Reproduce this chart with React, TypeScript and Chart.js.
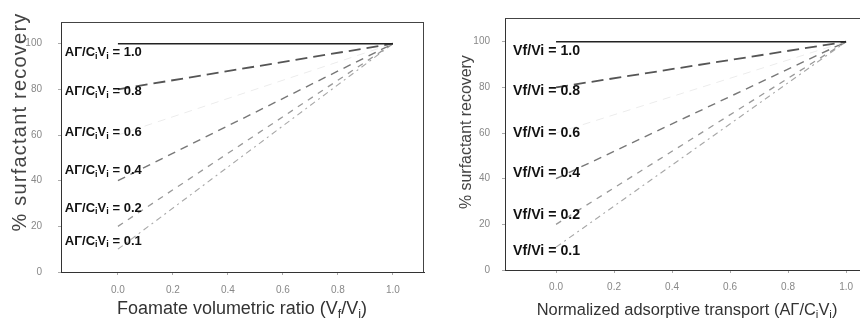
import React, { useEffect, useRef } from "react";
import { Chart, registerables } from "chart.js";

Chart.register(...registerables);

// ---- data ----
const paramValues = [1.0, 0.8, 0.6, 0.4, 0.2, 0.1];
const lineStartX = [0, 0, 0, 0, 0, 0];
const lineStartY = [100, 80, 60, 40, 20, 10];
const lineEndX = [1, 1, 1, 1, 1, 1];
const lineEndY = [100, 100, 100, 100, 100, 100];
const xTickValues = [0, 0.2, 0.4, 0.6, 0.8, 1.0];
const yTickValues = [0, 20, 40, 60, 80, 100];
const leftLabelY = [96, 79, 61, 44.5, 28, 13.5];
const rightLabelY = [95.8, 78.3, 60, 42.5, 24, 8.3];

// ---- styles ----
const lineStyles = [
  { color: "#222222", width: 1.4, dash: [] as number[] },
  { color: "#555555", width: 1.8, dash: [12, 6] },
  { color: "#ececec", width: 1.0, dash: [8, 6] },
  { color: "#777777", width: 1.4, dash: [8, 6] },
  { color: "#999999", width: 1.3, dash: [6, 6] },
  { color: "#a8a8a8", width: 1.1, dash: [6, 4, 2, 4] },
];

const FAMILY = "'Liberation Sans', Arial, Helvetica, sans-serif";

type Seg = { t: string; sub?: boolean };

function segsWidth(ctx: CanvasRenderingContext2D, segs: Seg[], size: number, weight: string) {
  let w = 0;
  for (const s of segs) {
    ctx.font = `${weight} ${s.sub ? size * 0.7 : size}px ${FAMILY}`;
    w += ctx.measureText(s.t).width;
  }
  return w;
}

function drawSegs(
  ctx: CanvasRenderingContext2D,
  segs: Seg[],
  x: number,
  y: number,
  size: number,
  weight: string,
  color: string,
  spacing = 0
) {
  ctx.fillStyle = color;
  ctx.textBaseline = "middle";
  ctx.textAlign = "left";
  let cx = x;
  for (const s of segs) {
    const fs = s.sub ? size * 0.7 : size;
    ctx.font = `${weight} ${fs}px ${FAMILY}`;
    if (spacing) {
      for (const ch of s.t) {
        ctx.fillText(ch, cx, s.sub ? y + size * 0.28 : y);
        cx += ctx.measureText(ch).width + spacing;
      }
    } else {
      ctx.fillText(s.t, cx, s.sub ? y + size * 0.28 : y);
      cx += ctx.measureText(s.t).width;
    }
  }
}

function fitSize(ctx: CanvasRenderingContext2D, segs: Seg[], target: number, weight: string) {
  const w = segsWidth(ctx, segs, 16, weight);
  return (16 * target) / w;
}

type PanelCfg = {
  xMin: number;
  xMax: number;
  yMax: number;
  yAxisWidth: number;
  xAxisHeight: number;
  padding: { top: number; right: number; left: number; bottom: number };
  yTickPad: number;
  xTickPad: number;
  fullBox: boolean;
  xTitle: Seg[];
  xTitleCenter: [number, number];
  xTitleWidth: number;
  yTitle: Seg[];
  yTitleCenter: [number, number];
  yTitleLength: number;
  yTitleSize: number;
  labelSegs: (p: number) => Seg[];
  labelX: number;
  labelY: number[];
  labelWidth: number;
};

const leftCfg: PanelCfg = {
  xMin: -0.207,
  xMax: 1.113,
  yMax: 109.5,
  yAxisWidth: 61,
  xAxisHeight: 56,
  padding: { top: 7, right: 6, left: 0, bottom: 0 },
  yTickPad: 16,
  xTickPad: 9,
  fullBox: true,
  xTitle: [{ t: "Foamate volumetric ratio (V" }, { t: "f", sub: true }, { t: "/V" }, { t: "i", sub: true }, { t: ")" }],
  xTitleCenter: [242, 309],
  xTitleWidth: 250,
  yTitle: [{ t: "% surfactant recovery" }],
  yTitleCenter: [20, 122],
  yTitleLength: 219,
  yTitleSize: 20,
  labelSegs: (p) => [{ t: "AΓ/C" }, { t: "i", sub: true }, { t: "V" }, { t: "i", sub: true }, { t: " = " + p.toFixed(1) }],
  labelX: -0.193,
  labelY: leftLabelY,
  labelWidth: 77,
};

const rightCfg: PanelCfg = {
  xMin: -0.176,
  xMax: 1.048,
  yMax: 110.4,
  yAxisWidth: 75,
  xAxisHeight: 58,
  padding: { top: 5, right: 0, left: 0, bottom: 0 },
  yTickPad: 12,
  xTickPad: 8,
  fullBox: false,
  xTitle: [
    { t: "Normalized adsorptive transport (AΓ/C" },
    { t: "i", sub: true },
    { t: "V" },
    { t: "i", sub: true },
    { t: ")" },
  ],
  xTitleCenter: [257, 310],
  xTitleWidth: 301,
  yTitle: [{ t: "% surfactant recovery" }],
  yTitleCenter: [37, 132],
  yTitleLength: 154,
  yTitleSize: 0,
  labelSegs: (p) => [{ t: "Vf/Vi = " + p.toFixed(1) }],
  labelX: -0.148,
  labelY: rightLabelY,
  labelWidth: 67,
};

function Panel({ cfg, left }: { cfg: PanelCfg; left: number }) {
  const ref = useRef<HTMLCanvasElement | null>(null);
  useEffect(() => {
    if (!ref.current) return;
    const datasets = paramValues.map((p, i) => ({
      label: p.toFixed(1),
      data: [
        { x: lineStartX[i], y: lineStartY[i] },
        { x: lineEndX[i], y: lineEndY[i] },
      ],
      borderColor: lineStyles[i].color,
      borderWidth: lineStyles[i].width,
      borderDash: lineStyles[i].dash,
      pointRadius: 0,
      fill: false,
      tension: 0,
    }));

    const decor = {
      id: "decor",
      afterDatasetsDraw(chart: any) {
        const ctx: CanvasRenderingContext2D = chart.ctx;
        const a = chart.chartArea;
        const xs = chart.scales.x;
        const ys = chart.scales.y;
        ctx.save();
        // frame
        ctx.strokeStyle = "#444";
        ctx.lineWidth = 1;
        ctx.setLineDash([]);
        ctx.beginPath();
        ctx.moveTo(a.left, a.top + 0.5);
        ctx.lineTo(a.right, a.top + 0.5);
        if (cfg.fullBox) {
          ctx.moveTo(a.right - 0.5, a.top);
          ctx.lineTo(a.right - 0.5, a.bottom);
        }
        ctx.stroke();

        // series labels
        const lsize = fitSize(ctx, cfg.labelSegs(paramValues[0]), cfg.labelWidth, "bold");
        paramValues.forEach((p, i) => {
          const px = xs.getPixelForValue(cfg.labelX);
          const py = ys.getPixelForValue(cfg.labelY[i]);
          drawSegs(ctx, cfg.labelSegs(p), px, py, lsize, "bold", "#111");
        });

        // x title
        const xsz = fitSize(ctx, cfg.xTitle, cfg.xTitleWidth, "normal");
        const xw = segsWidth(ctx, cfg.xTitle, xsz, "normal");
        drawSegs(ctx, cfg.xTitle, cfg.xTitleCenter[0] - xw / 2, cfg.xTitleCenter[1], xsz, "normal", "#333");

        // y title
        let ysz: number;
        let spacing = 0;
        if (cfg.yTitleSize) {
          ysz = cfg.yTitleSize;
          const w0 = segsWidth(ctx, cfg.yTitle, ysz, "normal");
          const n = cfg.yTitle.reduce((k, s) => k + s.t.length, 0);
          spacing = (cfg.yTitleLength - w0) / n;
        } else {
          ysz = fitSize(ctx, cfg.yTitle, cfg.yTitleLength, "normal");
        }
        ctx.translate(cfg.yTitleCenter[0], cfg.yTitleCenter[1]);
        ctx.rotate(-Math.PI / 2);
        drawSegs(ctx, cfg.yTitle, -cfg.yTitleLength / 2, 0, ysz, "normal", "#444", spacing);
        ctx.restore();
      },
    };

    const chart = new Chart(ref.current, {
      type: "line",
      data: { datasets },
      options: {
        responsive: false,
        animation: false,
        layout: { padding: cfg.padding },
        plugins: { legend: { display: false }, tooltip: { enabled: false } },
        scales: {
          x: {
            type: "linear",
            min: cfg.xMin,
            max: cfg.xMax,
            afterBuildTicks: (s: any) => {
              s.ticks = xTickValues.map((v) => ({ value: v }));
            },
            afterFit: (s: any) => {
              s.height = cfg.xAxisHeight;
              s.paddingLeft = 0;
              s.paddingRight = 0;
            },
            ticks: {
              padding: cfg.xTickPad,
              color: "#888",
              font: { size: 10, family: FAMILY },
              maxRotation: 0,
              autoSkip: false,
              callback: (v: any) => Number(v).toFixed(1),
            },
            grid: { drawOnChartArea: false, tickLength: 3, color: "#aaa" },
            border: { color: "#333", width: 1 },
          },
          y: {
            type: "linear",
            min: 0,
            max: cfg.yMax,
            afterBuildTicks: (s: any) => {
              s.ticks = yTickValues.map((v) => ({ value: v }));
            },
            afterFit: (s: any) => {
              s.width = cfg.yAxisWidth;
            },
            ticks: {
              padding: cfg.yTickPad,
              color: "#888",
              font: { size: 10, family: FAMILY },
              autoSkip: false,
              callback: (v: any) => String(v),
            },
            grid: { drawOnChartArea: false, tickLength: 3, color: "#aaa" },
            border: { color: "#333", width: 1 },
          },
        },
      },
      plugins: [decor],
    } as any);
    return () => chart.destroy();
  }, [cfg]);

  return (
    <canvas
      ref={ref}
      width={430}
      height={328}
      style={{ position: "absolute", left, top: 0, width: 430, height: 328 }}
    />
  );
}

export default function App() {
  useEffect(() => {
    document.body.style.margin = "0";
    document.body.style.overflow = "hidden";
  }, []);
  return (
    <div style={{ position: "relative", width: 860, height: 328, background: "#fff", overflow: "hidden" }}>
      <Panel cfg={leftCfg} left={0} />
      <Panel cfg={rightCfg} left={430} />
    </div>
  );
}
